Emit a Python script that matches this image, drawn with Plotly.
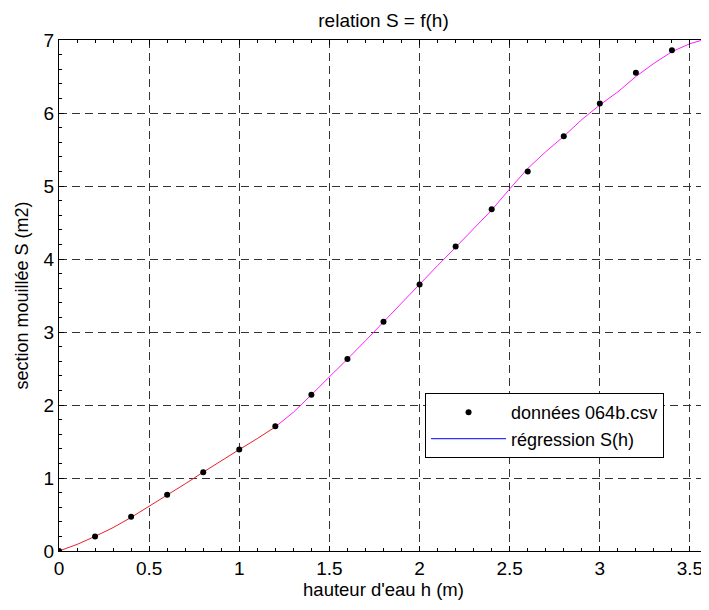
import plotly.graph_objects as go

# measured data points
h_data = [0.0, 0.2, 0.4, 0.6, 0.8, 1.0, 1.2, 1.4, 1.6, 1.8, 2.0, 2.2, 2.4, 2.6, 2.8, 3.0, 3.2, 3.4, 3.6]
s_data = [0.0, 0.20, 0.47, 0.77, 1.08, 1.39, 1.71, 2.14, 2.63, 3.14, 3.65, 4.17, 4.68, 5.20, 5.68, 6.13, 6.55, 6.86, 7.02]

# regression curve (red part then magenta part)
h_reg_a = [0.0, 0.1, 0.2, 0.3, 0.4, 0.5, 0.6, 0.7, 0.8, 0.9, 1.0, 1.1, 1.2]
s_reg_a = [0.0, 0.09, 0.20, 0.32, 0.46, 0.61, 0.76, 0.92, 1.08, 1.24, 1.39, 1.54, 1.70]
h_reg_b = [1.2, 1.3, 1.4, 1.5, 1.6, 1.7, 1.8, 1.9, 2.0, 2.1, 2.2, 2.3, 2.4, 2.5, 2.6, 2.7, 2.8, 2.9, 3.0, 3.1, 3.2, 3.3, 3.4, 3.5, 3.6]
s_reg_b = [1.70, 1.90, 2.14, 2.38, 2.63, 2.88, 3.14, 3.39, 3.65, 3.91, 4.16, 4.42, 4.67, 4.96, 5.24, 5.47, 5.68, 5.91, 6.11, 6.29, 6.50, 6.68, 6.84, 6.95, 7.02]

x_ticks = [0, 0.5, 1, 1.5, 2, 2.5, 3, 3.5]
x_labels = ["0", "0.5", "1", "1.5", "2", "2.5", "3", "3.5"]
y_ticks = [0, 1, 2, 3, 4, 5, 6, 7]

FONT = "Liberation Sans, Arial, sans-serif"
X_RANGE = [0, 3.6]
Y_RANGE = [0, 7]

fig = go.Figure()
fig.add_trace(go.Scatter(x=h_reg_a, y=s_reg_a, mode="lines",
                         line=dict(color="#e8202a", width=1), showlegend=False, hoverinfo="skip"))
fig.add_trace(go.Scatter(x=h_reg_b, y=s_reg_b, mode="lines",
                         line=dict(color="#ff20ff", width=1), showlegend=False, hoverinfo="skip"))
fig.add_trace(go.Scatter(x=h_data, y=s_data, mode="markers", name="données 064b.csv",
                         marker=dict(color="black", size=6)))
fig.add_trace(go.Scatter(x=[None], y=[None], mode="lines", name="régression S(h)",
                         line=dict(color="#0000ff", width=1)))
# invisible trace to activate the mirrored (top/right) axes
fig.add_trace(go.Scatter(x=[None], y=[None], xaxis="x2", yaxis="y2", mode="markers",
                         showlegend=False, hoverinfo="skip"))

tick_common = dict(ticks="inside", ticklen=5, tickcolor="black", zeroline=False, automargin=False)

# the page body has an 8px margin, so the figure is sized to fit inside the window
fig.update_layout(
    width=701, height=602,
    margin=dict(l=51, r=1, t=32, b=59),
    paper_bgcolor="white", plot_bgcolor="white",
    title=dict(text="relation S = f(h)", xref="paper", x=0.5, xanchor="center",
               y=1 - 12 / 602, yanchor="middle",
               font=dict(family=FONT, size=19, color="black")),
    font=dict(family=FONT, color="black"),
    xaxis=dict(range=X_RANGE, tickvals=x_ticks, ticktext=x_labels,
               showline=True, linecolor="black", linewidth=1,
               showgrid=True, gridcolor="#333333", griddash="8px,5px", gridwidth=1,
               tickfont=dict(family=FONT, size=19, color="black"),
               minor=dict(dtick=0.1, ticks="inside", ticklen=3, tickcolor="black", showgrid=False),
               title=dict(text="hauteur d'eau h (m)", font=dict(family=FONT, size=18.5, color="black"), standoff=4),
               **tick_common),
    yaxis=dict(range=Y_RANGE, tickvals=y_ticks,
               showline=True, linecolor="black", linewidth=1,
               showgrid=True, gridcolor="#333333", griddash="8px,5px", gridwidth=1,
               tickfont=dict(family=FONT, size=19, color="black"),
               minor=dict(dtick=0.2, ticks="inside", ticklen=3, tickcolor="black", showgrid=False),
               title=dict(text="section mouillée S (m2)", font=dict(family=FONT, size=18, color="black"), standoff=10),
               **tick_common),
    xaxis2=dict(range=X_RANGE, tickvals=x_ticks, overlaying="x", side="top", anchor="y",
                showline=True, linecolor="black", linewidth=1, showgrid=False, showticklabels=False,
                minor=dict(dtick=0.1, ticks="inside", ticklen=3, tickcolor="black", showgrid=False),
                **tick_common),
    yaxis2=dict(range=Y_RANGE, tickvals=y_ticks, overlaying="y", side="right", anchor="x",
                showline=True, linecolor="black", linewidth=1, showgrid=False, showticklabels=False,
                minor=dict(dtick=0.2, ticks="inside", ticklen=3, tickcolor="black", showgrid=False),
                **tick_common),
    legend=dict(x=0.564, y=0.309, xanchor="left", yanchor="top",
                bgcolor="white", bordercolor="black", borderwidth=1,
                font=dict(family=FONT, size=18, color="black"), itemwidth=75),
)

fig.write_html("out.html")
